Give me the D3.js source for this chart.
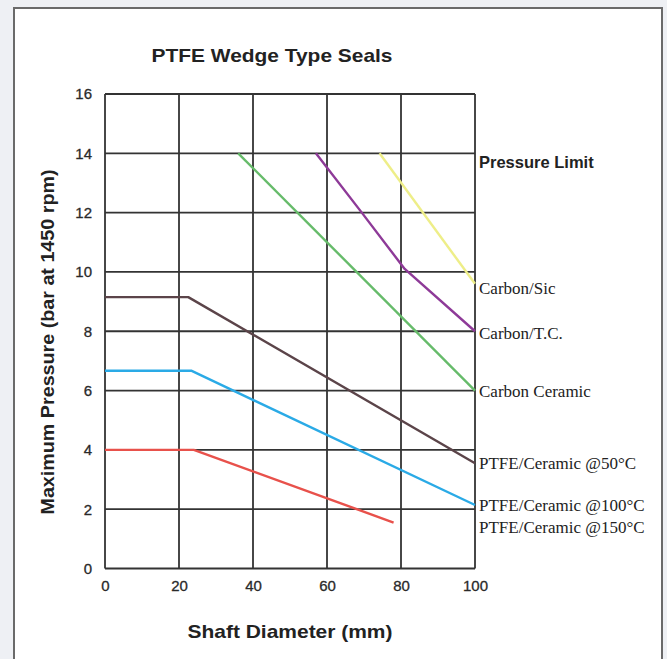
<!DOCTYPE html>
<html>
<head>
<meta charset="utf-8">
<script src="https://cdn.jsdelivr.net/npm/d3@7"></script>
<style>
  html, body { margin: 0; padding: 0; background: #eef0f4; }
  svg { display: block; }
</style>
</head>
<body>
<svg id="chart" width="667" height="659"></svg>
<script>
// ---- Data ----
const title = "PTFE Wedge Type Seals";
const xTitle = "Shaft Diameter (mm)";
const yTitle = "Maximum Pressure (bar at 1450 rpm)";
const xTicks = [0, 20, 40, 60, 80, 100];
const yTicks = [0, 2, 4, 6, 8, 10, 12, 14, 16];

const seriesNames = ["Carbon/Sic", "Carbon/T.C.", "Carbon Ceramic",
  "PTFE/Ceramic @50°C", "PTFE/Ceramic @100°C", "PTFE/Ceramic @150°C"];
const seriesColors = ["#eeee88", "#8e3a98", "#66bb6a", "#5b4449", "#2aaae6", "#e8514b"];

const carbonSicX = [74.2, 100];
const carbonSicY = [14, 9.6];
const carbonTCX = [57, 69.4, 81, 100];
const carbonTCY = [14, 12, 10.1, 8];
const carbonCeramicX = [36, 100];
const carbonCeramicY = [14, 6];
const ptfe50X = [0, 22.5, 100];
const ptfe50Y = [9.15, 9.15, 3.55];
const ptfe100X = [0, 23.3, 100];
const ptfe100Y = [6.67, 6.67, 2.14];
const ptfe150X = [0, 24, 78];
const ptfe150Y = [4.0, 4.0, 1.55];

const seriesX = [carbonSicX, carbonTCX, carbonCeramicX, ptfe50X, ptfe100X, ptfe150X];
const seriesY = [carbonSicY, carbonTCY, carbonCeramicY, ptfe50Y, ptfe100Y, ptfe150Y];

// label anchor values (y-value where each label sits)
const labelNames = ["Pressure Limit", "Carbon/Sic", "Carbon/T.C.", "Carbon Ceramic",
  "PTFE/Ceramic @50°C", "PTFE/Ceramic @100°C", "PTFE/Ceramic @150°C"];
const labelValues = [13.7, 9.45, 7.95, 6.0, 3.55, 2.15, 1.4];

// ---- Drawing ----
const svg = d3.select("#chart");

svg.append("rect").attr("x", 14).attr("y", 8).attr("width", 648).attr("height", 660)
  .attr("fill", "#ffffff").attr("stroke", "#6a6a6a").attr("stroke-width", 2);

const mLeft = 105, mRight = 475, mTop = 94, mBottom = 568.5;
const x = d3.scaleLinear().domain([0, 100]).range([mLeft, mRight]);
const y = d3.scaleLinear().domain([0, 16]).range([mBottom, mTop]);

const grid = svg.append("g");
grid.selectAll("line.v").data(xTicks).enter().append("line")
  .attr("x1", d => x(d)).attr("x2", d => x(d))
  .attr("y1", y(0)).attr("y2", y(16))
  .attr("stroke", "#333").attr("stroke-width", 1.8);
grid.selectAll("line.h").data(yTicks).enter().append("line")
  .attr("x1", x(0)).attr("x2", x(100))
  .attr("y1", d => y(d)).attr("y2", d => y(d))
  .attr("stroke", "#333").attr("stroke-width", 1.8);

const yAxis = d3.axisLeft(y).tickValues(yTicks).tickSize(0).tickPadding(13);
const gy = svg.append("g").attr("transform", `translate(${mLeft},0)`).call(yAxis);
gy.select(".domain").remove();
gy.selectAll("text").attr("font-family", "Liberation Sans, Arial, sans-serif")
  .attr("font-size", 15).attr("fill", "#2a2a2a").attr("stroke", "#2a2a2a").attr("stroke-width", 0.3);

const xAxis = d3.axisBottom(x).tickValues(xTicks).tickSize(0).tickPadding(12);
const gx = svg.append("g").attr("transform", `translate(0,${mBottom})`).call(xAxis);
gx.select(".domain").remove();
gx.selectAll("text").attr("font-family", "Liberation Sans, Arial, sans-serif")
  .attr("font-size", 15).attr("fill", "#2a2a2a").attr("stroke", "#2a2a2a").attr("stroke-width", 0.3);

const line = d3.line().x(d => x(d[0])).y(d => y(d[1]));
seriesNames.forEach((name, i) => {
  const pts = seriesX[i].map((v, j) => [v, seriesY[i][j]]);
  svg.append("path").datum(pts).attr("d", line)
    .attr("fill", "none").attr("stroke", seriesColors[i]).attr("stroke-width", 2.4)
    .attr("stroke-linejoin", "round");
});

labelNames.forEach((name, i) => {
  const t = svg.append("text").attr("x", mRight + 4).attr("y", y(labelValues[i]))
    .attr("dy", "0.35em").attr("fill", "#222").text(name);
  if (i === 0) {
    t.attr("font-family", "Liberation Sans, Arial, sans-serif").attr("font-weight", "bold")
      .attr("font-size", 16.5);
  } else {
    t.attr("font-family", "Liberation Serif, Times New Roman, serif").attr("font-size", 17);
  }
});

svg.append("text").attr("x", 272).attr("y", 62).attr("text-anchor", "middle")
  .attr("font-family", "Liberation Sans, Arial, sans-serif").attr("font-weight", "bold")
  .attr("font-size", 19).attr("textLength", 241).attr("lengthAdjust", "spacingAndGlyphs")
  .attr("fill", "#222").text(title);

svg.append("text").attr("x", 290).attr("y", 638).attr("text-anchor", "middle")
  .attr("font-family", "Liberation Sans, Arial, sans-serif").attr("font-weight", "bold")
  .attr("font-size", 19).attr("textLength", 205).attr("lengthAdjust", "spacingAndGlyphs")
  .attr("fill", "#222").text(xTitle);

svg.append("text").attr("transform", "translate(54,342) rotate(-90)").attr("text-anchor", "middle")
  .attr("font-family", "Liberation Sans, Arial, sans-serif").attr("font-weight", "bold")
  .attr("font-size", 19).attr("textLength", 345).attr("lengthAdjust", "spacingAndGlyphs")
  .attr("fill", "#222").text(yTitle);
</script>
</body>
</html>
